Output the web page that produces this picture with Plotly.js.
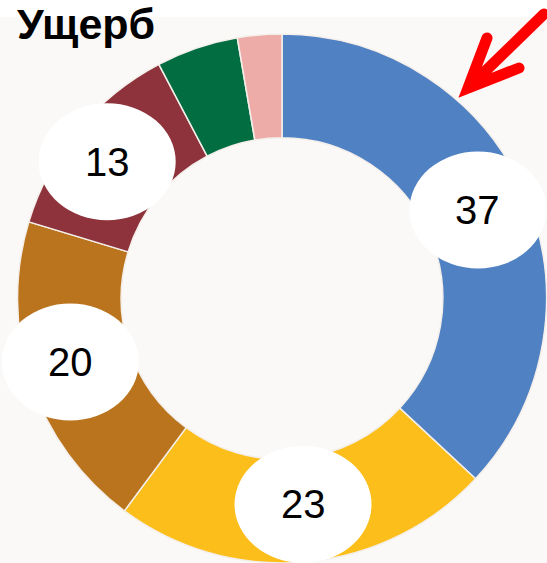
<!DOCTYPE html>
<html>
<head>
<meta charset="utf-8">
<script src="https://cdn.plot.ly/plotly-3.0.1.min.js"></script>
<style>html,body{margin:0;padding:0;background:#fff;}#chart{width:547px;height:563px;}</style>
</head>
<body>
<div id="chart"></div>
<script>
// ---- data ----
const categories = ['A', 'B', 'C', 'D', 'E', 'F'];
const values = [36.9, 23.2, 19.5, 12.6, 5.0, 2.7];
const labelTexts = ['37', '23', '20', '13', '', ''];
const colors = ['#4F81C3', '#FBBE1A', '#BA741D', '#8E333B', '#016D41', '#EEACA8'];
const titleText = 'Ущерб';

// ---- layout geometry (styling) ----
const W = 547, H = 563;
const domainX = [0.032, 0.9991];
const domainY = [0, 0.9396];
const hole = 0.608;
const labelRadiusPx = [215, 207, 221, 222, 0, 0];   // bubble distance from centre
const labelAngleShift = [-0.8, -0.6, 1.6, -1.5, 0, 0]; // degrees off the slice mid-angle
const px = x => x / W;
const py = y => 1 - y / H;

// pie centre and radius (px) derived from domain, as Plotly computes it
const dw = (domainX[1] - domainX[0]) * W, dh = (domainY[1] - domainY[0]) * H;
const R = Math.min(dw, dh) / 2;
const cx = (domainX[0] + domainX[1]) / 2 * W;
const cy = (1 - (domainY[0] + domainY[1]) / 2) * H;

// label ellipses placed at slice mid angles
const total = values.reduce((a, b) => a + b, 0);
const shapes = [];
const annotations = [];
let acc = 0;
const ew = 137, eh = 117;
values.forEach((v, i) => {
  const midDeg = (acc + v / 2) / total * 360 + labelAngleShift[i]; // clockwise from top
  acc += v;
  if (!labelTexts[i]) return;
  const mid = midDeg * Math.PI / 180;
  const r = labelRadiusPx[i];
  const x = cx + r * Math.sin(mid);
  const y = cy - r * Math.cos(mid);
  shapes.push({
    type: 'circle', xref: 'paper', yref: 'paper', layer: 'above',
    x0: px(x - ew / 2), x1: px(x + ew / 2), y0: py(y + eh / 2), y1: py(y - eh / 2),
    fillcolor: '#ffffff', line: {width: 0}
  });
  annotations.push({
    xref: 'paper', yref: 'paper', x: px(x), y: py(y), xanchor: 'center', yanchor: 'middle',
    text: labelTexts[i], showarrow: false,
    font: {family: 'Liberation Sans, Arial, sans-serif', size: 40, color: '#000000'}
  });
});

// off-white plot background
shapes.unshift({
  type: 'rect', xref: 'paper', yref: 'paper', layer: 'below',
  x0: 0, x1: 1, y0: 0, y1: py(17), fillcolor: '#FBF9F8', line: {width: 0}
});
// red arrow pointing at the largest slice
shapes.push({
  type: 'path', xref: 'paper', yref: 'paper', layer: 'above',
  path: `M${px(544)},${py(14)} L${px(468)},${py(88)} M${px(487)},${py(38)} L${px(468)},${py(88)} L${px(519)},${py(68)}`,
  line: {color: '#FF0000', width: 11}
});

const trace = {
  type: 'pie',
  labels: categories,
  values: values,
  hole: hole,
  sort: false,
  direction: 'clockwise',
  rotation: 0,
  textinfo: 'none',
  hoverinfo: 'label+value',
  marker: {colors: colors, line: {color: '#F4EFEA', width: 1.5}},
  domain: {x: domainX, y: domainY},
  showlegend: false
};

const layout = {
  width: W, height: H,
  margin: {l: 0, r: 0, t: 0, b: 0},
  paper_bgcolor: '#ffffff',
  title: {
    text: '<b>' + titleText + '</b>',
    x: px(17), xanchor: 'left', xref: 'paper',
    y: py(24), yanchor: 'middle', yref: 'paper',
    font: {family: 'Liberation Sans, Arial, sans-serif', size: 43, color: '#000000'}
  },
  shapes: shapes,
  annotations: annotations,
  showlegend: false
};

Plotly.newPlot('chart', [trace], layout, {displayModeBar: false, staticPlot: true}).then(() => {
  document.querySelectorAll('.shapelayer path').forEach(p => {
    if (p.getAttribute('style') && p.getAttribute('style').indexOf('rgb(255, 0, 0)') >= 0) {
      p.style.strokeLinecap = 'round';
      p.style.strokeLinejoin = 'miter';
    }
  });
});
</script>
</body>
</html>
